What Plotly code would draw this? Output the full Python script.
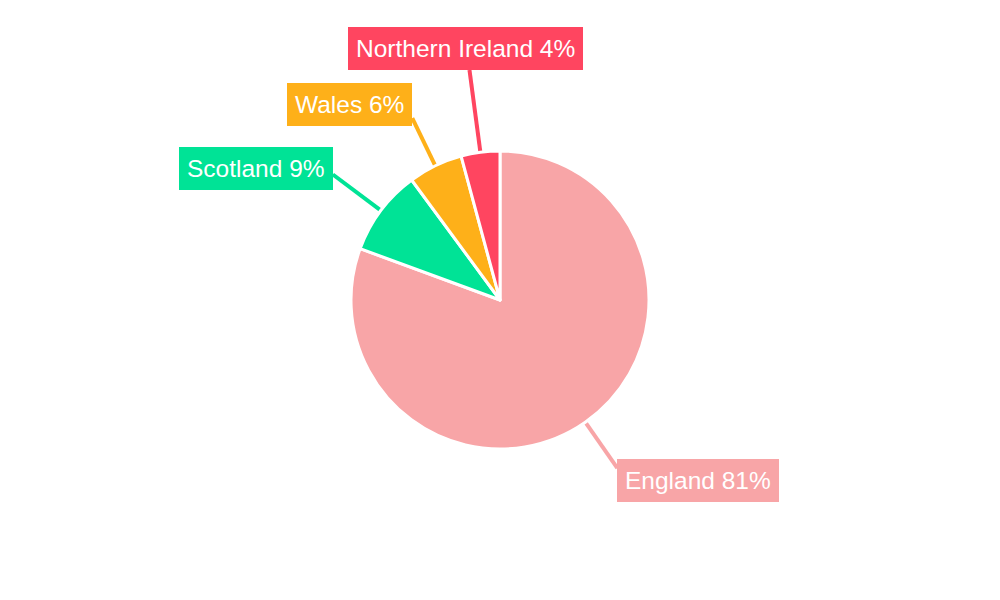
import math
import plotly.graph_objects as go

# ---- data ----
regions = ["England", "Scotland", "Wales", "Northern Ireland"]
shares = [80.6, 9.3, 5.9, 4.2]
colors = ["#F8A5A7", "#00E396", "#FEB019", "#FF4560"]

# ---- layout constants (label placement) ----
W, H = 1000, 600
OFF = 8  # page body margin compensation
CX, CY, R = 500 - OFF, 300 - OFF, 147.5
R_DOMAIN = 149.0
leader_r = [205, 209, 202, 232]
x_anchor = ["left", "right", "right", "center"]
y_anchor = ["middle", "middle", "middle", "bottom"]
x_shift = [0, 0, 0, -4]
y_shift = [-12, 6, 14, 0]

fig = go.Figure()
fig.add_trace(go.Pie(
    labels=regions, values=shares, sort=False, direction="clockwise", rotation=0,
    marker=dict(colors=colors, line=dict(color="white", width=3)),
    textinfo="none", hoverinfo="label+percent", showlegend=False,
    domain=dict(x=[0, 2 * CX / W], y=[1 - (CY + R_DOMAIN) / H, 1 - (CY - R_DOMAIN) / H]),
))

total = sum(shares)
cum = 0.0
shapes, annotations = [], []
for i, (name, v) in enumerate(zip(regions, shares)):
    mid = (cum + v / 2) / total * 2 * math.pi
    cum += v
    sx, sy = math.sin(mid), -math.cos(mid)
    x0, y0 = CX + R * sx, CY + R * sy
    x1, y1 = CX + leader_r[i] * sx, CY + leader_r[i] * sy
    shapes.append(dict(type="line", xref="paper", yref="paper",
                       x0=x0 / W, y0=1 - y0 / H, x1=x1 / W, y1=1 - y1 / H,
                       line=dict(color=colors[i], width=4), layer="below"))
    pct = int(v / total * 100 + 0.5)
    annotations.append(dict(
        x=x1 / W, y=1 - y1 / H, xref="paper", yref="paper",
        text=f"{name} {pct}%", showarrow=False,
        xanchor=x_anchor[i], yanchor=y_anchor[i],
        xshift=x_shift[i], yshift=y_shift[i],
        bgcolor=colors[i], borderpad=8, borderwidth=0,
        font=dict(color="white", size=24.5, family="Liberation Sans, Arial, sans-serif"),
    ))

fig.update_layout(
    width=W, height=H, margin=dict(l=0, r=0, t=0, b=0),
    paper_bgcolor="white", plot_bgcolor="white",
    shapes=shapes, annotations=annotations,
)
fig.write_html("out.html")
